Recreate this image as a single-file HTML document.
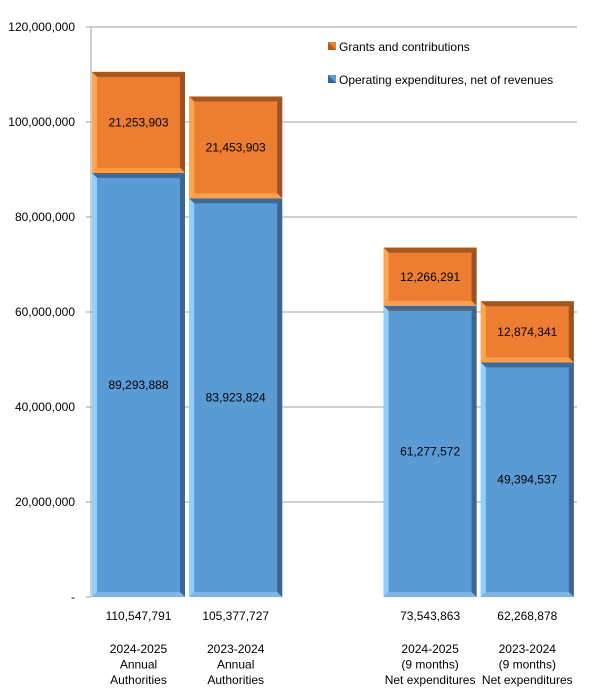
<!DOCTYPE html>
<html><head><meta charset="utf-8"><style>
body{margin:0;background:#fff;}
svg{display:block;font-family:"Liberation Sans",sans-serif;font-size:12px;}
</style></head><body>
<svg id="c" width="603" height="688"></svg>
<script>
const categories=[["2024-2025","Annual","Authorities"],["2023-2024","Annual","Authorities"],null,["2024-2025","(9 months)","Net expenditures"],["2023-2024","(9 months)","Net expenditures"]];
const operating=[89293888,83923824,null,61277572,49394537];
const grants=[21253903,21453903,null,12266291,12874341];
const totals=[110547791,105377727,null,73543863,62268878];
const ticks=[0,20000000,40000000,60000000,80000000,100000000,120000000];
const NS="http://www.w3.org/2000/svg";
const svg=document.getElementById('c');
const X0=91,X1=577,Y0=597,Y1=27,MAX=120000000;
const y=v=>Y0-(v/MAX)*(Y0-Y1);
const slot=(X1-X0)/5;
const bx=i=>X0+i*slot+1;
const BW=93,BV=5;
const fmt=v=>v.toLocaleString('en-US');
function el(t,a,p){const e=document.createElementNS(NS,t);for(const k in a)e.setAttribute(k,a[k]);(p||svg).appendChild(e);return e;}
function txt(x,yy,s,anchor,p){const t=el('text',{x:x,y:yy,'text-anchor':anchor||'middle',fill:'#000'},p);t.textContent=s;return t;}
const grid=el('g',{});
const yax=el('g',{});
ticks.forEach(v=>{
  if(v>0)el('line',{x1:X0,x2:X1,y1:y(v),y2:y(v),stroke:'#a0a0a0','stroke-width':1},grid);
  el('line',{x1:X0-5,x2:X0,y1:y(v),y2:y(v),stroke:'#a0a0a0'},yax);
  const t=txt(X0-16,y(v)+4,v===0?'-':fmt(v),'end',yax);
  
});
el('line',{x1:X0,x2:X0,y1:Y1,y2:Y0,stroke:'#a0a0a0'},yax);
function bevelRect(x,top,bot,face,light,dark,lighter,darker,p){
  const w=BW,h=bot-top,b=Math.min(BV,h/2);
  el('rect',{x:x,y:top,width:w,height:h,fill:face},p);
  el('polygon',{points:`${x},${top} ${x+w},${top} ${x+w-b},${top+b} ${x+b},${top+b}`,fill:darker},p);
  el('polygon',{points:`${x},${top} ${x+b},${top+b} ${x+b},${bot-b} ${x},${bot}`,fill:light},p);
  el('polygon',{points:`${x+w},${top} ${x+w},${bot} ${x+w-b},${bot-b} ${x+w-b},${top+b}`,fill:dark},p);
  el('polygon',{points:`${x},${bot} ${x+w},${bot} ${x+w-b},${bot-b} ${x+b},${bot-b}`,fill:lighter},p);
}
categories.forEach((c,i)=>{
  if(!c)return;
  const x=bx(i);
  const g1=el('g',{});
  bevelRect(x,y(operating[i]),y(0),'#5b9bd5','#8fd0ff','#3b6690','#7eb4e8','#3f6a96',g1);
  txt(x+BW/2,(y(operating[i])+y(0))/2+4,fmt(operating[i]),'middle',g1);
  const g2=el('g',{});
  const t2=operating[i]+grants[i];
  bevelRect(x,y(t2),y(operating[i]),'#ed7d31','#ffa44f','#9c5222','#f9a050','#a5571e',g2);
  txt(x+BW/2,(y(t2)+y(operating[i]))/2+4,fmt(grants[i]),'middle',g2);
  const tl=txt(x+BW/2,620,fmt(totals[i]));
  const cg=el('g',{});
  c.forEach((s,k)=>txt(x+BW/2,653+k*15.5,s,'middle',cg));
});
const lg=el('g',{});
const le1=el('g',{},lg);
el('rect',{x:328,y:42,width:8,height:8,fill:'#ed7d31'},le1);el('polygon',{points:'328,42 336,50 328,50',fill:'#b05a20'},le1);
txt(339,51,'Grants and contributions','start',le1);
const le2=el('g',{},lg);
el('rect',{x:328,y:75,width:8,height:8,fill:'#5b9bd5'},le2);el('polygon',{points:'328,75 336,83 328,83',fill:'#3b6690'},le2);
txt(339,84,'Operating expenditures, net of revenues','start',le2);
</script>
</body></html>
